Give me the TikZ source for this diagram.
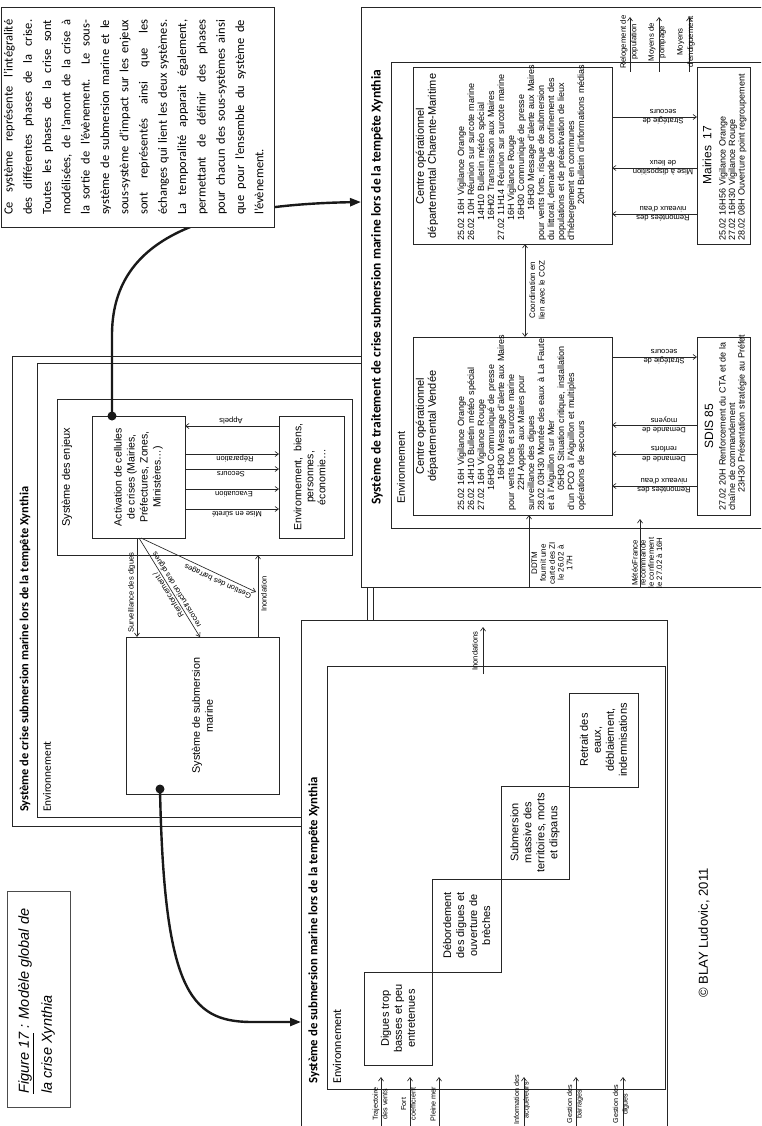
\documentclass[tikz,border=0pt]{standalone}
\usepackage{fontspec}
\setmainfont{Liberation Sans}
\newfontfamily\calib{Carlito}
\usepackage{graphicx}
\usetikzlibrary{arrows.meta}
\newcommand{\fsz}[2]{\fontsize{#1}{#2}\selectfont}
\newcommand{\indA}{\hspace*{20pt}}
\newcommand{\rgt}{\hspace*{\fill}}
\begin{document}
\begin{tikzpicture}[x=1pt,y=-1pt,
  bx/.style={draw=black!85, line width=0.9pt, fill=white, inner sep=0pt, outer sep=0pt, anchor=north west},
  rot/.style={rotate=90, inner sep=0pt},
  arr/.style={draw=black!85, line width=0.65pt, -{Straight Barb[length=3.5pt,width=5pt]}},
  darr/.style={draw=black!85, line width=0.65pt, {Straight Barb[length=3.5pt,width=5pt]}-{Straight Barb[length=3.5pt,width=5pt]}},
  big/.style={draw=black!90, line width=2.4pt, -{Triangle[length=11pt,width=8pt]}},
  dot/.style={circle, fill=black!90, inner sep=0pt, minimum size=9pt},
  lab/.style={inner sep=0pt, align=center, font=\fsz{7.6}{9.5}},
  rlab/.style={lab, rotate=180},
  vlab/.style={lab, rotate=90},
  boxtxt/.style={rot, align=center, font=\fsz{10.8}{13}},
  body/.style={rot, anchor=north west, text width=176pt, align=left, font=\fsz{9}{10}},
]
\useasboundingbox (0,0) rectangle (761,1126);
\clip (0,0) rectangle (761,1126);
\fill[white] (0,0) rectangle (761,1126);

% ================= Systeme de crise =================
\node[bx, minimum width=361pt, minimum height=470pt] (crO) at (12,356) {};
\node[bx, minimum width=330pt, minimum height=454pt] (crI) at (37,363) {};
\node[rot, anchor=west, font=\calib\bfseries] (crT) at (25,812) {\resizebox{325pt}{!}{Système de crise submersion marine lors de la tempête Xynthia}};
\node[rot, anchor=west, font=\calib\fsz{11.3}{13}] (crE) at (47,812) {Environnement};
\node[bx, minimum width=295pt, minimum height=156pt] (enj) at (57,399) {};
\node[rot, anchor=west, font=\fsz{11}{13}] (enjT) at (67,527) {Système des enjeux};
\node[bx, minimum width=93pt, minimum height=122pt] (act) at (92,416) {};
\node[boxtxt, font=\fsz{10.5}{13}] (actT) at (act.center) {Activation de cellules\\de crises (Mairies,\\Préfectures, Zones,\\Ministères…)};
\node[bx, minimum width=65pt, minimum height=122pt] (env) at (279,416) {};
\node[boxtxt, font=\fsz{10.5}{12}] (envT) at ([xshift=-2pt]env.center) {Environnement,\ \ biens,\\personnes,\\économie…};
\node[bx, minimum width=153pt, minimum height=157pt] (ssm) at (126,637) {};
\node[boxtxt, font=\fsz{10.8}{13}] (ssmT) at (ssm.center) {Système de submersion\\marine};

\draw[arr] (env.west |- 0,426) -- (act.east |- 0,426);
\foreach \yy in {454,469,489,509} {\draw[arr] (act.east |- 0,\yy) -- (env.west |- 0,\yy);}
\node[rlab] (lA) at (231,420.5) {Appels};
\node[rlab] (lR) at (235,459) {Réparation};
\node[rlab] (lS) at (231,474) {Secours};
\node[rlab] (lE) at (234,494) {Evacuation};
\node[rlab] (lM) at (237,514) {Mise en sûreté};

\draw[arr] (act.south -| 137,0) -- (ssm.north -| 137,0);
\node[vlab, anchor=south west] (lSurv) at (135.5,633) {Surveillance des digues};
\draw[arr] (act.south -| 139,0) -- (ssm.north -| 200,0);
\node[lab, rotate=121.6] (lRenf) at (173,592) {Renforcement /\\reconstruction des digues};
\coordinate (gbE) at (256,592);
\draw[arr] (act.south -| 141,0) -- (gbE);
\node[lab, rotate=155.4] (lGest) at (218,581) {Gestion des barrages};
\draw[arr] (ssm.north -| 258,0) -- (enj.south -| 258,0);
\node[vlab, anchor=north west] (lIno) at (261,612) {Inondation};
\node[dot] (d1) at (112,416) {};
\node[dot] (d2) at (160,789) {};

% ================= Systeme de traitement =================
\node[bx, minimum width=420pt, minimum height=580pt] (trO) at (361,7) {};
\node[rot, anchor=west, font=\calib\bfseries] (trT) at (377,505) {\resizebox{435pt}{!}{Système de traitement de crise submersion marine lors de la tempête Xynthia}};
\node[bx, minimum width=390pt, minimum height=466pt] (trI) at (391,62) {};
\node[rot, anchor=west, font=\fsz{10.8}{12}] (trE) at (401,504) {Environnement};

\node[bx, minimum width=199pt, minimum height=177pt] (cm) at (413,67) {};
\node[rot, align=center, font=\fsz{11}{12}] (cmT) at (427,156) {Centre opérationnel\\départemental Charente-Maritime};
\node[body] (cmB) at (457.5,241) {25.02 16H Vigilance Orange\\
26.02 10H Réunion sur surcote marine\\
\indA 14H10 Bulletin météo spécial\\
\indA 16H02 Transmission aux Maires\\
27.02 11H14 Réunion sur surcote marine\\
\indA 16H Vigilance Rouge\\
\indA 16H30 Communiqué de presse\\
\rgt 16H30 Message d’alerte aux Maires\\
pour vents forts, risque de submersion\\
du littoral, demande de confinement des\\
populations et de préactivation de lieux\\
d’hébergement en communes\\
\rgt 20H Bulletin d’informations médias};

\node[bx, minimum width=199pt, minimum height=178pt] (ve) at (413,337) {};
\node[rot, align=center, font=\fsz{11}{12}] (veT) at (427,426) {Centre opérationnel\\départemental Vendée};
\node[body] (veB) at (457.5,511) {25.02 16H Vigilance Orange\\
26.02 14H10 Bulletin météo spécial\\
27.02 16H Vigilance Rouge\\
\indA 16H30 Communiqué de presse\\
\rgt 16H30 Message d’alerte aux Maires\\
pour vents forts et surcote marine\\
\indA 22H Appels aux Maires pour\\
surveillance des digues\\
28.02 03H30 Montée des eaux à La Faute\\
et à l’Aiguillon sur Mer\\
\indA 05H30 Situation critique, installation\\
d’un PCO à l’Aiguillon et multiples\\
opérations de secours};

\node[bx, minimum width=53pt, minimum height=177pt] (mai) at (697,67) {};
\node[rot, font=\fsz{12}{13}] (maiT) at (707,155) {Mairies\ \ 17};
\node[body, font=\fsz{9}{9.5}] (maiB) at (719,241) {25.02 16H56 Vigilance Orange\\
27.02 16H30 Vigilance Rouge\\
28.02 08H Ouverture point regroupement};

\node[bx, minimum width=53pt, minimum height=178pt] (sdis) at (697,337) {};
\node[rot, font=\fsz{12}{13}] (sdisT) at (709,426) {SDIS 85};
\node[body, font=\fsz{9}{9.5}] (sdisB) at (719,511) {27.02 20H Renforcement du CTA et de la\\
chaîne de commandement\\
\rgt 23H30 Présentation stratégie au Préfet};

% arrows CM - Mairies
\draw[arr] (cm.east |- 0,117) -- (mai.west |- 0,117);
\draw[arr] (mai.west |- 0,168) -- (cm.east |- 0,168);
\draw[arr] (mai.west |- 0,214) -- (cm.east |- 0,214);
\node[rlab] (l1) at (663,117) {Stratégie de\\secours};
\node[rlab] (l2) at (663,168) {Mise à disposition\\de lieux};
\node[rlab] (l3) at (663,214) {Remontées des\\niveaux d’eau};
% arrows Vendee - SDIS
\draw[arr] (ve.east |- 0,357) -- (sdis.west |- 0,357);
\draw[arr] (sdis.west |- 0,425) -- (ve.east |- 0,425);
\draw[arr] (sdis.west |- 0,454) -- (ve.east |- 0,454);
\draw[arr] (sdis.west |- 0,486) -- (ve.east |- 0,486);
\node[rlab] (l4) at (664,357) {Stratégie de\\secours};
\node[rlab] (l5) at (664,425) {Demande de\\moyens};
\node[rlab] (l6) at (664,454) {Demande de\\renforts};
\node[rlab] (l7) at (664,486) {Remontées des\\niveaux d’eau};
% coordination
\draw[darr] (cm.south -| 525,0) -- (ve.north -| 525,0);
\node[vlab, font=\fsz{8}{9.5}] (lCoord) at (537,290) {Coordination en\\lien avec le COZ};
% DDTM, Meteo France
\draw[arr] (trO.south -| 529,0) -- (ve.south -| 529,0);
\node[vlab, font=\fsz{8}{8.8}] (lDDTM) at (552,563) {DDTM\\fournit une\\carte des ZI\\le 26.02 à\\17H};
\coordinate (mfE) at (640,519);
\draw[arr] (trO.south -| 640,0) -- (mfE);
\node[vlab, font=\fsz{7.8}{8.2}] (lMF) at (647,563) {MétéoFrance\\recommande\\le confinement\\le 27.02 à 16H};
% outputs top right
\foreach \xx/\nn in {630/a,659/b,689/c} {
  \coordinate (o\nn s) at (\xx,72);
  \coordinate (o\nn e) at (\xx,17);
  \draw[arr] (o\nn s) -- (o\nn e);
}
\node[vlab, font=\fsz{7.8}{10.5}] (lRel) at (629,42) {Relogement de\\population};
\node[vlab, font=\fsz{7.8}{10.5}] (lPomp) at (657,42) {Moyens de\\pompage};
\node[vlab, font=\fsz{7.8}{10.5}] (lEnd) at (686,42) {Moyens\\d’endiguement};

% ================= Systeme de submersion =================
\node[bx, minimum width=366pt, minimum height=520pt] (sbO) at (301,620) {};
\node[rot, anchor=west, font=\calib\bfseries] (sbT) at (314,1084) {\resizebox{307pt}{!}{Système de submersion marine lors de la tempête Xynthia}};
\node[bx, minimum width=338pt, minimum height=423pt] (sbI) at (327,666) {};
\node[rot, anchor=west, font=\calib\fsz{12}{14}] (sbE) at (337,1084) {Environnement};
\node[bx, minimum width=68pt, minimum height=93pt] (s1) at (364,972) {};
\node[boxtxt, font=\fsz{11}{13}] (s1T) at (s1.center) {Digues trop\\basses et peu\\entretenues};
\node[bx, minimum width=69pt, minimum height=93pt] (s2) at (432,879) {};
\node[boxtxt, font=\fsz{11}{13}] (s2T) at (s2.center) {Débordement\\des digues et\\ouverture de\\brèches};
\node[bx, minimum width=68pt, minimum height=93pt] (s3) at (501,786) {};
\node[boxtxt, font=\fsz{11}{13}] (s3T) at (s3.center) {Submersion\\massive des\\territoires, morts\\et disparus};
\node[bx, minimum width=69pt, minimum height=94pt] (s4) at (569,693) {};
\node[boxtxt, font=\fsz{11}{13}] (s4T) at (s4.center) {Retrait des\\eaux,\\déblaiement,\\indemnisations};
\coordinate (inoS) at (483,674);
\coordinate (inoE) at (483,627);
\draw[arr] (inoS) -- (inoE);
\node[vlab] (lInos) at (475,651) {Inondations};
\foreach \xx/\nn in {381/a,410/b,439/c,524/d,576/e,623/f} {
  \coordinate (i\nn s) at (\xx,1130);
  \coordinate (i\nn e) at (\xx,1077);
  \draw[arr] (i\nn s) -- (i\nn e);
}
\node[vlab, font=\fsz{7.2}{9.5}] (lTraj) at (380,1104) {Trajectoire\\des vents};
\node[vlab, font=\fsz{7.2}{9.5}] (lFort) at (408.5,1104) {Fort\\coefficient};
\node[vlab, font=\fsz{7.2}{9.5}] (lPM) at (433,1104) {Pleine mer};
\node[vlab, font=\fsz{7.2}{9.5}] (lInf) at (522,1100) {Information des\\acquéreurs};
\node[vlab, font=\fsz{7.2}{9.5}] (lGb) at (575,1104) {Gestion des\\barrages};
\node[vlab, font=\fsz{7.2}{9.5}] (lGd) at (621,1104) {Gestion des\\digues};

% ================= thick connectors =================
\draw[big] (d1.center) -- (112,335) .. controls (112,240) and (200,205) .. (trO.west |- 0,202);
\draw[big] (d2.center) .. controls (164,990) and (190,1021) .. (250,1022) -- (sbO.west |- 0,1022);

% ================= text box =================
\node[bx, minimum width=273pt, minimum height=220pt] (tb) at (1,7) {};
\node[rot, anchor=north west, text width=195pt, align=justify, font=\calib\fsz{12.5}{19.3}] (tbT) at (3.5,215) {\tolerance=10000\hyphenpenalty=10000 Ce système représente l’intégralité\linebreak des différentes phases de la crise.\linebreak Toutes les phases de la crise sont\linebreak modélisées, de l’amont de la crise à\linebreak la sortie de l’évènement. Le sous-\linebreak système de submersion marine et le\linebreak sous-système d’impact sur les enjeux\linebreak sont représentés ainsi que les\linebreak échanges qui lient les deux systèmes.\linebreak La temporalité apparait également,\linebreak permettant de définir des phases\linebreak pour chacun des sous-systèmes ainsi\linebreak que pour l’ensemble du système de\linebreak l’évènement.};

% ================= caption and copyright =================
\node[bx, draw=black!70, minimum width=63pt, minimum height=216pt] (fig) at (7,891) {};
\node[rot, anchor=west, align=left, font=\itshape\fsz{14.5}{23}] (figT) at (36.5,1094) {\underline{Figure 17} : Modèle global de\\la crise Xynthia};
\node[rot, font=\fsz{13}{15}] (copy) at (704,933) {© BLAY Ludovic, 2011};
\end{tikzpicture}
\end{document}
